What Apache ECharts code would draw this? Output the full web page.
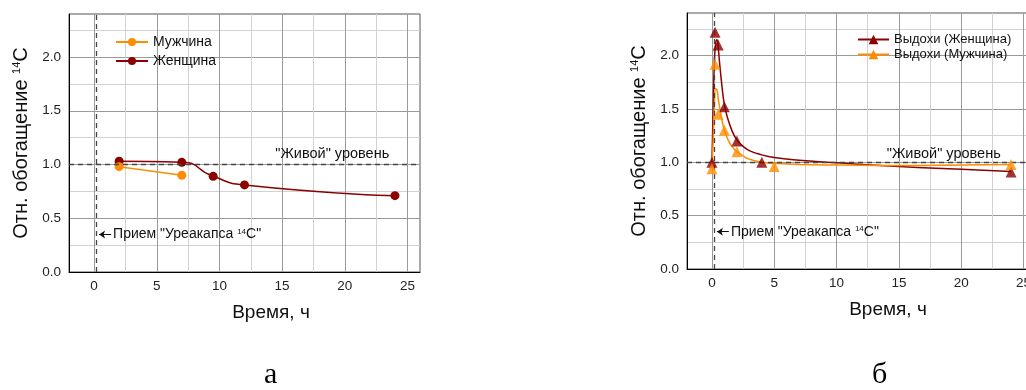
<!DOCTYPE html>
<html>
<head>
<meta charset="utf-8">
<script src="https://cdn.jsdelivr.net/npm/echarts@6/dist/echarts.min.js"></script>
<style>
  html, body { margin: 0; padding: 0; background: #fff; overflow: hidden; }
  #chart { width: 1040px; height: 390px; }
</style>
</head>
<body>
<div id="chart"></div>
<script>
// --- а: данные (точки соединены линией)
var maleTimeA = [2, 7];
var maleValA = [0.98, 0.90];
var femaleTimeA = [2, 7, 9.5, 12, 24];
var femaleValA = [1.03, 1.02, 0.89, 0.81, 0.71];

// --- б: измерения выдохов
var femaleTimeB = [0, 0.25, 0.5, 1, 2, 4, 24];
var femaleValB = [1.0, 2.22, 2.1, 1.52, 1.2, 1.0, 0.91];
var maleTimeB = [0, 0.25, 0.5, 1, 2, 5, 24];
var maleValB = [0.94, 1.92, 1.45, 1.3, 1.1, 0.96, 0.98];

// --- б: аппроксимирующие кривые
var fitTime = [0, 0.1, 0.2, 0.3, 0.4, 0.5, 0.6, 0.8, 1, 1.3, 1.6, 2, 2.5, 3, 4, 5, 7, 10, 15, 20, 24];
var femaleFit = [1.0, 1.5, 1.95, 2.12, 2.15, 2.08, 1.95, 1.72, 1.54, 1.4, 1.3, 1.21, 1.15, 1.11, 1.07, 1.045, 1.02, 0.995, 0.96, 0.935, 0.915];
var maleFit = [0.94, 1.2, 1.55, 1.69, 1.68, 1.6, 1.53, 1.4, 1.3, 1.21, 1.15, 1.1, 1.06, 1.03, 1.0, 0.99, 0.98, 0.975, 0.97, 0.975, 0.98];

// оси
var xLabels = [0, 5, 10, 15, 20, 25];
var xGrid = [0, 2.5, 5, 7.5, 10, 12.5, 15, 17.5, 20, 22.5, 25];
var yLabels = [0, 0.5, 1, 1.5, 2];
var yGrid = [0, 0.25, 0.5, 0.75, 1, 1.25, 1.5, 1.75, 2, 2.25];
var liveLevel = 1.0;
var doseTime = 0.2;

var FONT = 'Liberation Sans';
var ORANGE = '#ff8c00';
var DARKRED = '#8b0000';

function pts(xs, ys) {
  return xs.map(function (x, i) { return [x, ys[i]]; });
}

function makeX(idx) {
  return {
    type: 'value', gridIndex: idx, min: -2, max: 26,
    name: 'Время, ч', nameLocation: 'middle', nameGap: 31,
    nameTextStyle: { fontFamily: FONT, fontSize: 19, color: '#111', padding: [0, 0, 0, 53] },
    axisLine: { show: true, onZero: false, lineStyle: { color: '#000', width: 1 } },
    axisTick: { show: false, customValues: xGrid },
    axisLabel: { customValues: xLabels, fontFamily: FONT, fontSize: 13.5, color: '#222', margin: 7 },
    splitLine: { show: true, lineStyle: { color: ['#9a9a9a', '#d2d2d2'], width: 1 } }
  };
}

function makeY(idx) {
  return {
    type: 'value', gridIndex: idx, min: 0, max: 2.4,
    name: '{n|Отн. обогащение }{s|14}{n|C}', nameLocation: 'middle', nameGap: 38,
    nameTextStyle: {
      rich: {
        n: { fontFamily: FONT, fontSize: 20, color: '#111' },
        s: { fontFamily: FONT, fontSize: 11, color: '#111', verticalAlign: 'top' }
      }
    },
    axisLine: { show: true, onZero: false, lineStyle: { color: '#000', width: 1 } },
    axisTick: { show: false, customValues: yGrid },
    axisLabel: {
      customValues: yLabels, fontFamily: FONT, fontSize: 13.5, color: '#222', margin: 8,
      formatter: function (v) { return v.toFixed(1); }
    },
    splitLine: { show: true, lineStyle: { color: ['#9a9a9a', '#d2d2d2'], width: 1 } }
  };
}

var dashStyle = { color: '#444', width: 1.3, type: [5, 4] };
var noteRich = {
  t: { fontFamily: FONT, fontSize: 14, color: '#111' },
  s: { fontFamily: FONT, fontSize: 8, color: '#111', verticalAlign: 'top' }
};

function guides(arrowY) {
  return {
    silent: true, symbol: 'none', animation: false,
    lineStyle: dashStyle,
    label: { show: false },
    data: [
      { yAxis: liveLevel },
      { xAxis: doseTime },
      [
        { coord: [0.4, arrowY], symbol: 'arrow', symbolSize: 6,
          lineStyle: { type: 'solid', color: '#111', width: 1 },
          label: { show: true, position: 'end', distance: 2,
            formatter: '{t|Прием "Уреакапса }{s|14}{t|C"}', rich: noteRich } },
        { coord: [1.36, arrowY], symbol: 'none' }
      ]
    ]
  };
}

function liveText(x, y) {
  return {
    silent: true, animation: false,
    symbol: 'circle', symbolSize: 1, itemStyle: { color: 'rgba(0,0,0,0)' },
    label: { show: true, position: 'inside', formatter: '"Живой" уровень',
      fontFamily: FONT, fontSize: 14.5, color: '#111' },
    data: [{ coord: [x, y] }]
  };
}

var chart = echarts.init(document.getElementById('chart'));
chart.setOption({
  animation: false,
  backgroundColor: '#fff',
  grid: [
    { left: 69, top: 14, width: 351, height: 258, show: true, borderColor: '#555', borderWidth: 1 },
    { left: 687, top: 13, width: 349, height: 256, show: true, borderColor: '#555', borderWidth: 1 }
  ],
  xAxis: [makeX(0), makeX(1)],
  yAxis: [makeY(0), makeY(1)],
  legend: [
    {
      left: 115, top: 35, padding: 0, orient: 'vertical', itemWidth: 32, itemHeight: 10, itemGap: 5,
      textStyle: { fontFamily: FONT, fontSize: 14, color: '#111' },
      data: ['Мужчина', 'Женщина']
    },
    {
      left: 857, top: 33, padding: 0, orient: 'vertical', itemWidth: 31, itemHeight: 12, itemGap: 2,
      textStyle: { fontFamily: FONT, fontSize: 13, color: '#111' },
      data: ['Выдохи (Женщина)', 'Выдохи (Мужчина)']
    }
  ],
  series: [
    {
      name: 'Женщина', type: 'line', xAxisIndex: 0, yAxisIndex: 0,
      data: pts(femaleTimeA, femaleValA), smooth: 0.6,
      symbol: 'circle', symbolSize: 9, color: DARKRED,
      lineStyle: { width: 1.5, color: DARKRED },
      markLine: guides(0.35),
      markPoint: liveText(19, 1.1),
      z: 3
    },
    {
      name: 'Мужчина', type: 'line', xAxisIndex: 0, yAxisIndex: 0,
      data: pts(maleTimeA, maleValA),
      symbol: 'circle', symbolSize: 9, color: ORANGE,
      lineStyle: { width: 1.5, color: ORANGE },
      z: 4
    },
    {
      name: 'Выдохи (Женщина)', type: 'line', xAxisIndex: 1, yAxisIndex: 1,
      data: pts(fitTime, femaleFit), smooth: 0.5,
      symbol: 'triangle', showSymbol: false, color: DARKRED,
      lineStyle: { width: 1.5, color: DARKRED },
      markLine: guides(0.35),
      markPoint: liveText(18.6, 1.075),
      z: 3
    },
    {
      name: 'Выдохи (Мужчина)', type: 'line', xAxisIndex: 1, yAxisIndex: 1,
      data: pts(fitTime, maleFit), smooth: 0.5,
      symbol: 'triangle', showSymbol: false, color: ORANGE,
      lineStyle: { width: 1.5, color: ORANGE },
      z: 3
    },
    {
      name: 'точки Женщина', type: 'scatter', xAxisIndex: 1, yAxisIndex: 1,
      data: pts(femaleTimeB, femaleValB),
      symbol: 'triangle', symbolSize: 11, itemStyle: { color: DARKRED },
      z: 5
    },
    {
      name: 'точки Мужчина', type: 'scatter', xAxisIndex: 1, yAxisIndex: 1,
      data: pts(maleTimeB, maleValB),
      symbol: 'triangle', symbolSize: 11, itemStyle: { color: ORANGE },
      z: 6
    }
  ],
  graphic: [
    { type: 'text', left: 264, top: 360,
      style: { text: 'а', fontFamily: 'Liberation Serif', fontSize: 30, fill: '#000' } },
    { type: 'text', left: 872, top: 360,
      style: { text: 'б', fontFamily: 'Liberation Serif', fontSize: 30, fill: '#000' } }
  ]
});
</script>
</body>
</html>
